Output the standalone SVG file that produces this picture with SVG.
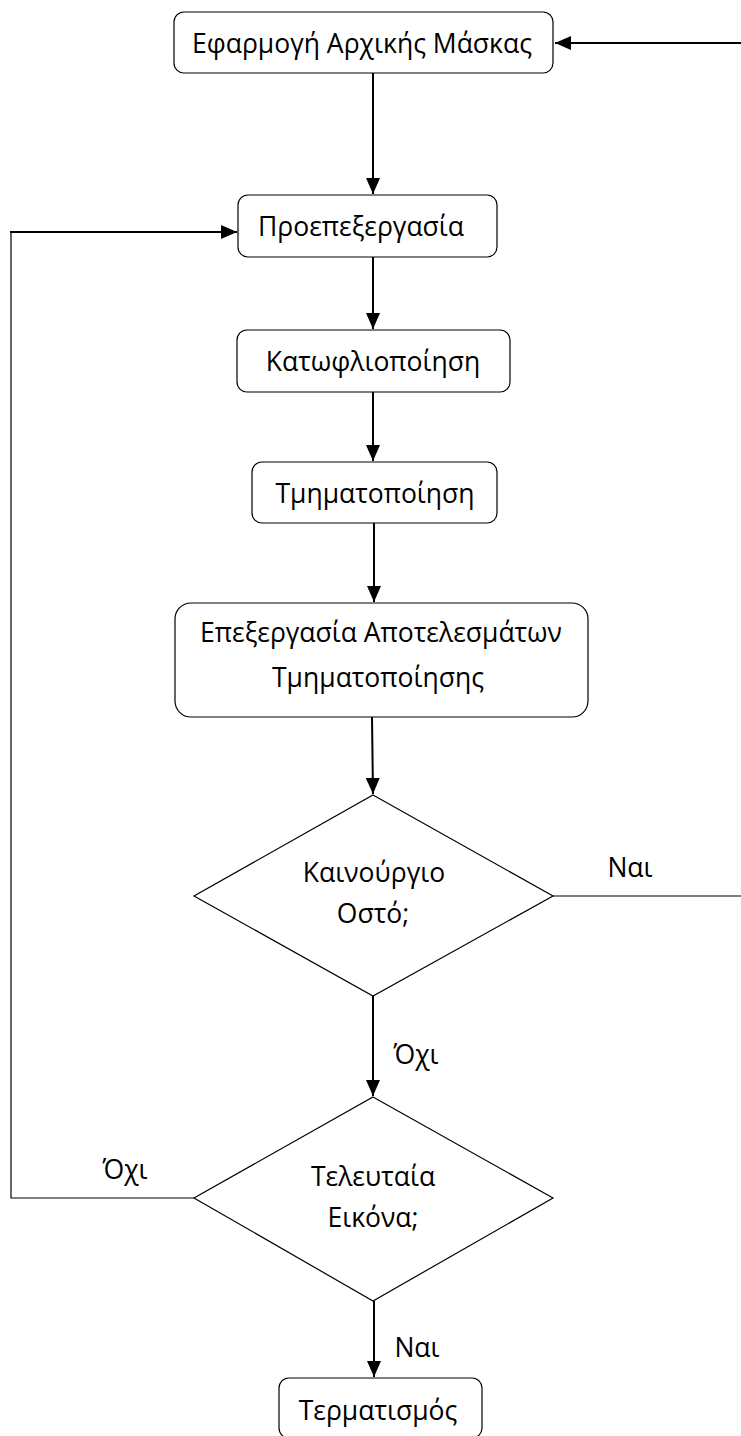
<svg xmlns="http://www.w3.org/2000/svg" width="741" height="1436" viewBox="0 0 741 1436">
<defs>
<style>
.box{fill:#fff;stroke:#000;stroke-width:1.2}
.dia{fill:#fff;stroke:#000;stroke-width:1.2}
.t{font-family:"Open Sans","Noto Sans","DejaVu Sans",sans-serif;font-size:26.5px;fill:#000;text-anchor:middle}
.c{fill:none;stroke:#000;stroke-width:2}
.thin{fill:none;stroke:#000;stroke-width:1.2}
</style>
<marker id="ah" markerUnits="userSpaceOnUse" markerWidth="18" markerHeight="16" refX="16" refY="8" orient="auto">
<path d="M0,1 L16,8 L0,15 Z" fill="#000"/>
</marker>
</defs>
<g id="connectors">
<line class="c" x1="741" y1="43" x2="555" y2="43" marker-end="url(#ah)"/>
<line class="c" x1="373" y1="73" x2="373" y2="194" marker-end="url(#ah)"/>
<polyline class="thin" points="194,1198 11,1198 11,232"/>
<line class="c" x1="10" y1="232" x2="237" y2="232" marker-end="url(#ah)"/>
<line class="c" x1="373" y1="257" x2="373" y2="329" marker-end="url(#ah)"/>
<line class="c" x1="373" y1="392" x2="373" y2="461" marker-end="url(#ah)"/>
<line class="c" x1="374" y1="523" x2="374" y2="602" marker-end="url(#ah)"/>
<line class="c" x1="372" y1="717" x2="373" y2="794" marker-end="url(#ah)"/>
<line class="thin" x1="553" y1="896" x2="741" y2="896"/>
<line class="c" x1="373" y1="996" x2="373" y2="1096" marker-end="url(#ah)"/>
<line class="c" x1="374" y1="1301" x2="374" y2="1377" marker-end="url(#ah)"/>
<text class="t" x="630" y="877">Ναι</text>
<text class="t" x="416" y="1064">Όχι</text>
<text class="t" x="125" y="1179">Όχι</text>
<text class="t" x="417" y="1357">Ναι</text>
</g>
<g id="n1">
<rect class="box" x="174" y="12" width="379" height="61" rx="10"/>
<text class="t" x="362" y="53">Εφαρμογή Αρχικής Μάσκας</text>
</g>
<g id="n2">
<rect class="box" x="238" y="195" width="259" height="62" rx="10"/>
<text class="t" x="361" y="236">Προεπεξεργασία</text>
</g>
<g id="n3">
<rect class="box" x="237" y="330" width="273" height="62" rx="10"/>
<text class="t" x="373" y="371">Κατωφλιοποίηση</text>
</g>
<g id="n4">
<rect class="box" x="252" y="462" width="245" height="61" rx="10"/>
<text class="t" x="375" y="503">Τμηματοποίηση</text>
</g>
<g id="n5">
<rect class="box" x="175" y="603" width="413" height="114" rx="16"/>
<text class="t" x="381" y="642">Επεξεργασία Αποτελεσμάτων</text>
<text class="t" x="378" y="687">Τμηματοποίησης</text>
</g>
<g id="d1">
<polygon class="dia" points="373,795 553,896 373,996 194,896"/>
<text class="t" x="374" y="882">Καινούργιο</text>
<text class="t" x="373" y="923">Οστό;</text>
</g>
<g id="d2">
<polygon class="dia" points="373,1097 553,1198 373,1301 194,1198"/>
<text class="t" x="373" y="1186">Τελευταία</text>
<text class="t" x="373" y="1227">Εικόνα;</text>
</g>
<g id="n6">
<rect class="box" x="279" y="1378" width="203" height="60" rx="10"/>
<text class="t" x="378" y="1420">Τερματισμός</text>
</g>
</svg>
